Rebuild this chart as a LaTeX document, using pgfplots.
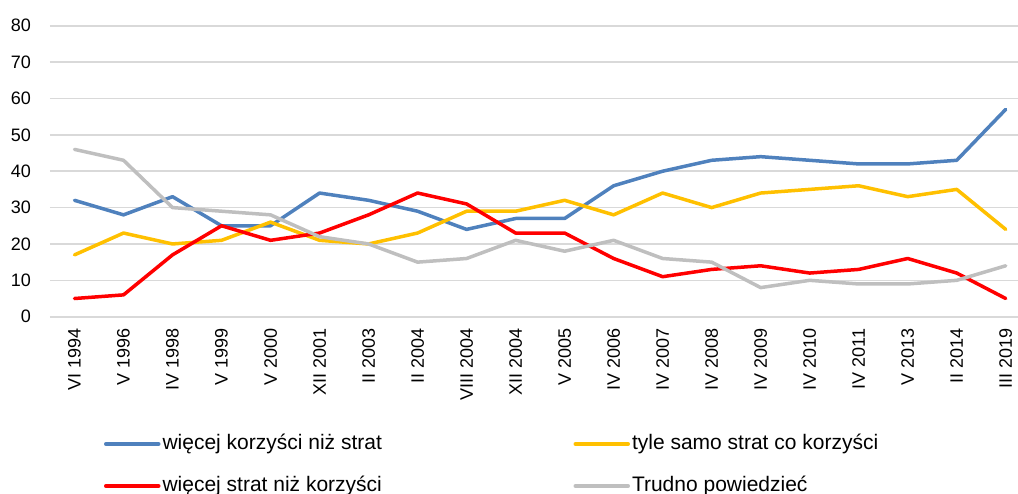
\documentclass[border=0pt]{standalone}
\usepackage{fontspec}
\setmainfont{Liberation Sans}
\usepackage{pgfplots}
\pgfplotsset{compat=1.18}

\definecolor{cBlue}{HTML}{4F81BD}
\definecolor{cYellow}{HTML}{FFC000}
\definecolor{cRed}{HTML}{FF0000}
\definecolor{cGray}{HTML}{BFBFBF}
\definecolor{cGrid}{HTML}{D9D9D9}

\newcommand{\lbl}{\fontsize{9}{11}\selectfont}
\newcommand{\leg}{\fontsize{10.5}{12.5}\selectfont}

\begin{document}
\begin{tikzpicture}
\begin{axis}[
  scale only axis,
  width=484pt, height=145.5pt,
  xmin=-0.5, xmax=19.25,
  ymin=0, ymax=80,
  ytick={0,10,...,80},
  xtick={0,...,19},
  xticklabels={VI 1994, V 1996, IV 1998, V 1999, V 2000, XII 2001, II 2003,
    II 2004, VIII 2004, XII 2004, V 2005, IV 2006, IV 2007, IV 2008, IV 2009,
    IV 2010, IV 2011, V 2013, II 2014, III 2019},
  /pgf/number format/assume math mode=true,
  ticklabel style={font=\lbl},
  xticklabel style={yshift=-2.5pt, rotate=90, anchor=east},
  yticklabel style={xshift=-6pt},
  ymajorgrids=true,
  grid style={cGrid, line width=0.8pt},
  axis line style={draw=none},
  major tick length=0pt,
  tick style={draw=none},
  every axis plot/.append style={line width=1.75pt, line join=round, line cap=round},
  legend columns=2,
  legend image code/.code={%
    \draw[#1] (0pt,0pt) -- (26.5pt,0pt);
    \path (27.5pt,0pt);},
  legend style={draw=none, fill=none, inner sep=0pt, outer sep=0pt,
    at={(0.0558,-0.4014)}, anchor=north west,
    font=\leg, row sep=10.5pt,
    nodes={inner sep=0pt, text height=8pt, text depth=2.5pt}},
  legend cell align=left,
  clip=false,
]
% więcej korzyści niż strat
\addplot[cBlue] coordinates {
  (0,32) (1,28) (2,33) (3,25) (4,25) (5,34) (6,32) (7,29) (8,24) (9,27)
  (10,27) (11,36) (12,40) (13,43) (14,44) (15,43) (16,42) (17,42) (18,43) (19,57)};
\addlegendentry{\makebox[205.5pt][l]{więcej korzyści niż strat}}
% tyle samo strat co korzyści
\addplot[cYellow] coordinates {
  (0,17) (1,23) (2,20) (3,21) (4,26) (5,21) (6,20) (7,23) (8,29) (9,29)
  (10,32) (11,28) (12,34) (13,30) (14,34) (15,35) (16,36) (17,33) (18,35) (19,24)};
\addlegendentry{tyle samo strat co korzyści}
% więcej strat niż korzyści
\addplot[cRed] coordinates {
  (0,5) (1,6) (2,17) (3,25) (4,21) (5,23) (6,28) (7,34) (8,31) (9,23)
  (10,23) (11,16) (12,11) (13,13) (14,14) (15,12) (16,13) (17,16) (18,12) (19,5)};
\addlegendentry{\makebox[205.5pt][l]{więcej strat niż korzyści}}
% Trudno powiedzieć
\addplot[cGray] coordinates {
  (0,46) (1,43) (2,30) (3,29) (4,28) (5,22) (6,20) (7,15) (8,16) (9,21)
  (10,18) (11,21) (12,16) (13,15) (14,8) (15,10) (16,9) (17,9) (18,10) (19,14)};
\addlegendentry{Trudno powiedzieć}
\end{axis}
\pgfresetboundingbox
\path[use as bounding box] (-25pt,158.35pt) rectangle (484pt,-88.15pt);
\end{tikzpicture}
\end{document}
